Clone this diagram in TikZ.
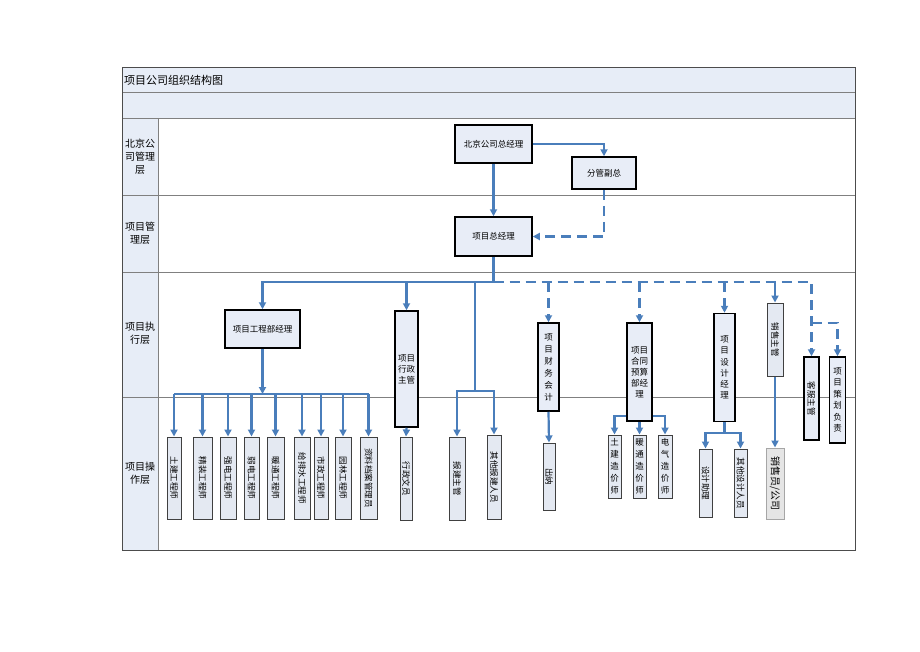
\documentclass[tikz,border=0pt]{standalone}
\usepackage{fontspec}
\setmainfont{Noto Sans CJK SC}
\usepackage{graphicx}
\usetikzlibrary{arrows.meta}
\definecolor{lnblue}{RGB}{74,126,187}
\definecolor{hdrfill}{RGB}{231,237,247}
\definecolor{boxfill}{RGB}{232,237,247}
\definecolor{leaffill}{RGB}{228,233,242}
\definecolor{lanegray}{RGB}{128,128,128}
\tikzset{
  lane/.style={draw=lanegray, line width=0.8pt},
  box/.style={draw=black, line width=1.5pt, fill=boxfill, inner sep=0pt, align=center, font=\fontsize{8.5}{11}\selectfont},
  leaf/.style={draw=black!75, line width=1pt, fill=leaffill, inner sep=0pt, align=center, font=\fontsize{8.5}{12}\selectfont},
  lbl/.style={align=center, inner sep=0pt, font=\fontsize{10}{13}\selectfont},
  conn/.style={draw=lnblue, line width=2.2pt},
  arr/.style={conn, -{Triangle[width=7pt,length=7pt]}},
  darr/.style={arr, dash pattern=on 10pt off 6pt},
  dconn/.style={conn, dash pattern=on 10pt off 6pt},
}
\begin{document}
\begin{tikzpicture}[x=1pt,y=-1pt]
\useasboundingbox (0,0) rectangle (920,651);
% frame and lanes
\fill[hdrfill] (122,67) rectangle (855,118);
\fill[hdrfill] (122,118) rectangle (158,550);
\draw[lane] (122,92) -- (855,92);
\draw[lane] (122,118) -- (855,118);
\draw[lane] (122,195) -- (855,195);
\draw[lane] (122,272) -- (855,272);
\draw[lane] (122,397) -- (855,397);
\draw[lane] (158,118) -- (158,550);
\draw[draw=black!70, line width=0.9pt] (122,67) rectangle (855,550);
\node[anchor=west, inner sep=0pt, font=\fontsize{11}{13}\selectfont] (title) at (124,80) {项目公司组织结构图};
\node[lbl] (l1) at (140,157) {北京公\\司管理\\层};
\node[lbl] (l2) at (140,233) {项目管\\理层};
\node[lbl] (l3) at (140,333) {项目执\\行层};
\node[lbl] (l4) at (140,473) {项目操\\作层};

% upper boxes
\node[box, minimum width=77, minimum height=38] (bj) at (493.5,144) {北京公司总经理};
\node[box, minimum width=64, minimum height=32] (fg) at (604,173) {分管副总};
\node[box, minimum width=77, minimum height=39] (xz) at (493.5,236.5) {项目总经理};

% execution lane
\node[box, minimum width=75, minimum height=38] (gcb) at (262.5,329) {项目工程部经理};
\node[box, minimum width=23, minimum height=116] (xzzg) at (406.5,369) {项目\\行政\\主管};
\node[box, minimum width=21, minimum height=88, font=\fontsize{8.5}{12}\selectfont] (cwkj) at (548.5,367) {项\\目\\财\\务\\会\\计};
\node[box, minimum width=25, minimum height=98] (htys) at (639.5,372) {项目\\合同\\预算\\部经\\理};
\node[box, minimum width=21, minimum height=108, font=\fontsize{8.5}{11.2}\selectfont] (sjjl) at (724.5,367.5) {项\\目\\设\\计\\经\\理};
\node[leaf, minimum width=16, minimum height=73] (xszg) at (775,339.5) {\rotatebox{-90}{销售主管}};
\node[box, minimum width=15, minimum height=83] (kfzg) at (811.5,398.5) {\rotatebox{-90}{客服主管}};
\node[box, minimum width=16, minimum height=86, font=\fontsize{8.5}{11.4}\selectfont] (chfz) at (837.5,400) {项\\目\\策\\划\\负\\责};

% operation lane
\node[leaf, minimum width=14, minimum height=82] (e1) at (174,478) {\rotatebox{-90}{土建工程师}};
\node[leaf, minimum width=19, minimum height=82] (e2) at (202.5,478) {\rotatebox{-90}{精装工程师}};
\node[leaf, minimum width=16, minimum height=82] (e3) at (228,478) {\rotatebox{-90}{强电工程师}};
\node[leaf, minimum width=15, minimum height=82] (e4) at (251.5,478) {\rotatebox{-90}{弱电工程师}};
\node[leaf, minimum width=17, minimum height=82] (e5) at (275.5,478) {\rotatebox{-90}{暖通工程师}};
\node[leaf, minimum width=16, minimum height=82] (e6) at (302,478) {\rotatebox{-90}{给排水工程师}};
\node[leaf, minimum width=14, minimum height=82] (e7) at (321,478) {\rotatebox{-90}{市政工程师}};
\node[leaf, minimum width=16, minimum height=82] (e8) at (343,478) {\rotatebox{-90}{园林工程师}};
\node[leaf, minimum width=17, minimum height=82] (e9) at (368.5,478) {\rotatebox{-90}{资料档案管理员}};
\node[leaf, minimum width=12, minimum height=83] (xzwy) at (406,478.5) {\rotatebox{-90}{行政文员}};
\node[leaf, minimum width=16, minimum height=83] (bjzg) at (457,478.5) {\rotatebox{-90}{报建主管}};
\node[leaf, minimum width=14, minimum height=84] (qtbj) at (494,477) {\rotatebox{-90}{其他报建人员}};
\node[leaf, minimum width=12, minimum height=67] (cn) at (549,476.5) {\rotatebox{-90}{出纳}};
\node[leaf, minimum width=13, minimum height=63] (tjzj) at (614.5,466.5) {土\\建\\造\\价\\师};
\node[leaf, minimum width=13, minimum height=63] (ntzj) at (639.5,466.5) {暖\\通\\造\\价\\师};
\node[leaf, minimum width=14, minimum height=63] (dqzj) at (665,466.5) {电\\气\\造\\价\\师};
\node[leaf, minimum width=13, minimum height=68] (sjzl) at (705.5,483) {\rotatebox{-90}{设计助理}};
\node[leaf, minimum width=13, minimum height=68] (qtsj) at (740.5,483) {\rotatebox{-90}{其他设计人员}};
\node[leaf, draw=black!35, fill=black!10, minimum width=18, minimum height=71, font=\fontsize{10}{12}\selectfont] (xsy) at (775,483.5) {\rotatebox{-90}{销售员/公司}};

% coordinates
\coordinate (b0) at (493.5,282);
\coordinate (pb) at (475,391);
\coordinate (pb0) at (475,282);
\coordinate (pe) at (262.5,394);
\coordinate (ph) at (639.5,416);
\coordinate (psj) at (724.5,433);
\coordinate (pk) at (811.5,323);

% top connectors
\draw[arr] (bj.east) -| (fg.north);
\draw[arr] (bj.south) -- (xz.north);
\draw[darr] (fg.south) |- (xz.east);
\draw[conn] (xz.south) -- (b0);
\draw[arr] (b0) -| (gcb.north);
\draw[arr] (xzzg.north |- b0) -- (xzzg.north);
\draw[conn] (pb0) -- (pb);
\draw[arr] (pb) -| (bjzg.north);
\draw[arr] (pb) -| (qtbj.north);
\draw[darr] (b0) -| (kfzg.north);
\draw[darr] (cwkj.north |- b0) -- (cwkj.north);
\draw[darr] (htys.north |- b0) -- (htys.north);
\draw[darr] (sjjl.north |- b0) -- (sjjl.north);
\draw[arr] (xszg.north |- b0) -- (xszg.north);
\draw[darr] (pk) -| (chfz.north);

% lower connectors
\draw[arr] (gcb.south) -- (pe);
\draw[conn] (e1.north |- pe) -- (e9.north |- pe);
\foreach \n in {e1,e2,e3,e4,e5,e6,e7,e8,e9}
  \draw[arr] (\n.north |- pe) -- (\n.north);
\draw[arr] (xzzg.south) -- (xzwy.north);
\draw[arr] (cwkj.south) -- (cn.north);
\draw[arr] (htys.west |- ph) -| (tjzj.north);
\draw[arr] (htys.east |- ph) -| (dqzj.north);
\draw[arr] (htys.south) -- (ntzj.north);
\draw[conn] (sjjl.south) -- (psj);
\draw[arr] (psj) -| (sjzl.north);
\draw[arr] (psj) -| (qtsj.north);
\draw[arr] (xszg.south) -- (xsy.north);
\end{tikzpicture}
\end{document}
